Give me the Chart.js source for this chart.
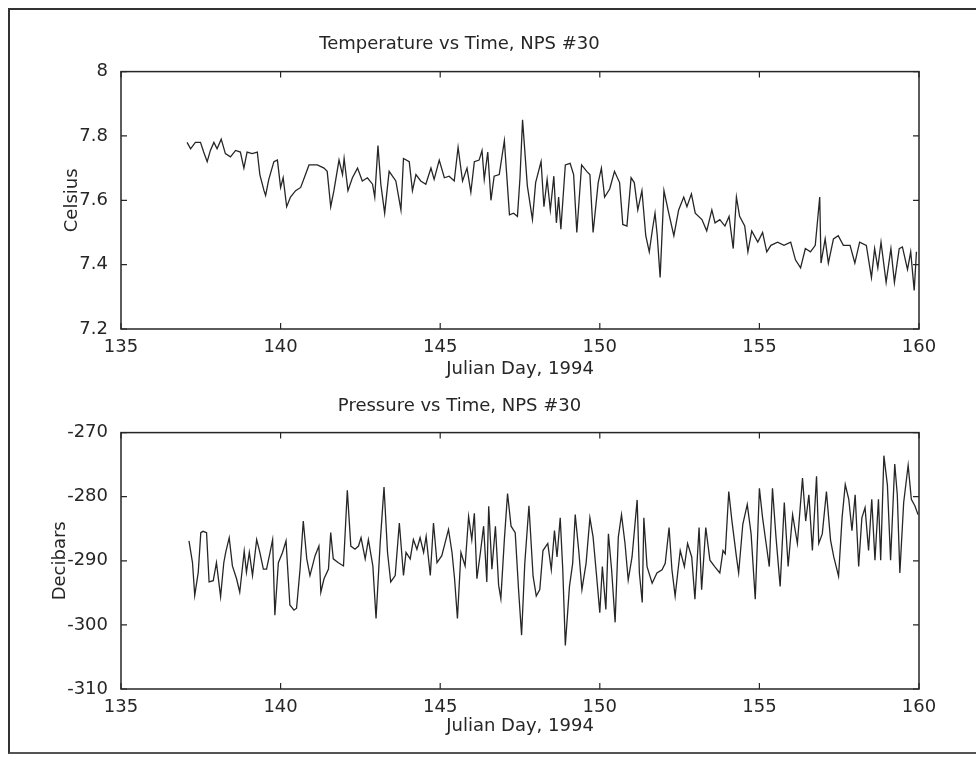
<!DOCTYPE html>
<html>
<head>
<meta charset="utf-8">
<script src="https://cdn.jsdelivr.net/npm/chart.js@4.4.1/dist/chart.umd.min.js"></script>
<style>
  body { margin: 0; background: #fff; }
  #page { position: relative; width: 976px; height: 776px; overflow: hidden; }
  #frame { position: absolute; left: 8px; top: 8px; width: 990px; height: 742px;
           border-left: 2px solid #333; border-top: 2px solid #333; border-bottom: 2px solid #555; }
  canvas { position: absolute; left: 0; }
</style>
</head>
<body>
<div id="page">
  <div id="frame"></div>
  <canvas id="tempChart" width="976" height="380" style="top:0"></canvas>
  <canvas id="presChart" width="976" height="396" style="top:380px"></canvas>
</div>
<script>
// Julian day ticks shared by both plots
let dayTicks = [135, 140, 145, 150, 155, 160];
let tempTicks = [7.2, 7.4, 7.6, 7.8, 8];
let presTicks = [-310, -300, -290, -280, -270];

// Temperature, NPS #30
let tempDays = [
  137.07,137.18,137.33,137.49,137.59,137.70,137.80,137.91,138.01,138.14,
  138.27,138.43,138.59,138.74,138.85,138.95,139.11,139.27,139.35,139.48,
  139.53,139.63,139.79,139.90,140.00,140.08,140.19,140.31,140.47,140.63,
  140.78,140.89,141.15,141.36,141.46,141.57,141.67,141.83,141.94,141.99,
  142.11,142.25,142.41,142.56,142.72,142.88,142.95,143.05,143.14,143.26,
  143.40,143.61,143.77,143.85,144.03,144.13,144.24,144.39,144.55,144.71,
  144.81,144.97,145.13,145.28,145.44,145.56,145.70,145.84,145.96,146.07,
  146.22,146.31,146.38,146.49,146.59,146.69,146.85,147.01,147.17,147.30,
  147.42,147.50,147.58,147.73,147.89,147.99,148.16,148.25,148.35,148.45,
  148.56,148.64,148.71,148.78,148.92,149.07,149.18,149.28,149.43,149.59,
  149.69,149.79,149.95,150.05,150.15,150.31,150.46,150.62,150.72,150.85,
  150.98,151.08,151.19,151.32,151.44,151.55,151.65,151.73,151.80,151.89,
  152.01,152.16,152.32,152.47,152.63,152.73,152.87,152.99,153.20,153.35,
  153.51,153.61,153.76,153.92,154.05,154.18,154.28,154.38,154.54,154.64,
  154.76,154.95,155.10,155.23,155.36,155.57,155.77,155.98,156.13,156.29,
  156.44,156.60,156.75,156.89,156.93,157.06,157.16,157.32,157.47,157.63,
  157.84,157.99,158.14,158.35,158.51,158.61,158.71,158.81,158.97,159.12,
  159.23,159.38,159.48,159.64,159.74,159.85,159.92
];
let tempValues = [
  7.78,7.76,7.78,7.78,7.75,7.72,7.755,7.78,7.76,7.79,
  7.745,7.735,7.755,7.75,7.70,7.75,7.745,7.75,7.68,7.63,
  7.615,7.665,7.72,7.725,7.64,7.67,7.58,7.61,7.63,7.64,
  7.68,7.71,7.71,7.70,7.69,7.58,7.63,7.725,7.68,7.73,
  7.63,7.67,7.70,7.66,7.67,7.65,7.61,7.77,7.65,7.56,
  7.69,7.66,7.57,7.73,7.72,7.63,7.68,7.66,7.65,7.70,
  7.665,7.725,7.67,7.675,7.66,7.765,7.66,7.70,7.625,7.72,
  7.725,7.755,7.665,7.75,7.60,7.675,7.68,7.785,7.555,7.56,
  7.55,7.67,7.85,7.645,7.54,7.655,7.72,7.58,7.665,7.57,
  7.675,7.53,7.61,7.51,7.71,7.715,7.68,7.50,7.71,7.69,
  7.68,7.50,7.655,7.70,7.61,7.635,7.69,7.655,7.525,7.52,
  7.67,7.655,7.57,7.63,7.49,7.44,7.51,7.56,7.49,7.36,
  7.63,7.56,7.49,7.57,7.61,7.58,7.62,7.56,7.54,7.505,
  7.57,7.53,7.54,7.52,7.55,7.45,7.61,7.55,7.52,7.44,
  7.505,7.47,7.50,7.44,7.46,7.47,7.46,7.47,7.415,7.39,
  7.45,7.44,7.46,7.61,7.405,7.48,7.405,7.48,7.49,7.46,
  7.46,7.405,7.47,7.46,7.36,7.45,7.39,7.47,7.345,7.45,
  7.345,7.45,7.455,7.385,7.44,7.32,7.44
];

// Pressure, NPS #30
let presDays = [
  137.13,137.24,137.31,137.42,137.50,137.57,137.68,137.76,137.89,137.99,
  138.12,138.22,138.28,138.39,138.49,138.62,138.72,138.86,138.93,139.02,
  139.12,139.25,139.35,139.46,139.56,139.67,139.75,139.82,139.93,140.06,
  140.17,140.29,140.42,140.50,140.61,140.71,140.82,140.92,141.08,141.20,
  141.26,141.36,141.50,141.57,141.65,141.81,141.97,142.09,142.20,142.33,
  142.44,142.52,142.65,142.75,142.89,142.99,143.12,143.24,143.35,143.45,
  143.59,143.72,143.85,143.93,144.06,144.16,144.27,144.37,144.48,144.56,
  144.69,144.79,144.90,145.05,145.26,145.37,145.45,145.54,145.65,145.78,
  145.89,145.99,146.07,146.15,146.26,146.36,146.46,146.52,146.62,146.73,
  146.83,146.90,147.01,147.11,147.22,147.35,147.46,147.55,147.65,147.78,
  147.91,148.01,148.12,148.22,148.37,148.48,148.58,148.66,148.76,148.84,
  148.92,149.05,149.15,149.23,149.34,149.44,149.57,149.69,149.79,149.90,
  150.00,150.08,150.19,150.27,150.37,150.48,150.58,150.68,150.79,150.89,
  151.01,151.17,151.24,151.33,151.38,151.48,151.64,151.79,151.95,152.05,
  152.17,152.26,152.36,152.52,152.65,152.75,152.88,152.98,153.11,153.19,
  153.32,153.45,153.60,153.76,153.86,153.93,154.04,154.14,154.28,154.35,
  154.48,154.62,154.74,154.87,155.00,155.10,155.21,155.31,155.41,155.52,
  155.65,155.78,155.90,156.04,156.19,156.35,156.45,156.55,156.66,156.79,
  156.86,156.97,157.10,157.23,157.33,157.48,157.59,157.69,157.80,157.90,
  158.00,158.11,158.21,158.31,158.42,158.52,158.62,158.73,158.80,158.90,
  159.01,159.11,159.24,159.32,159.40,159.52,159.66,159.76,159.87,159.97
];
let presValues = [
  -286.9,-290.3,-295.4,-291.8,-285.6,-285.4,-285.6,-293.3,-293.1,-290.3,
  -295.6,-290.3,-288.7,-286.4,-290.8,-292.8,-294.9,-288.5,-291.8,-288.7,
  -292.3,-286.7,-288.7,-291.3,-291.3,-288.7,-286.7,-298.5,-290.3,-288.7,
  -286.9,-296.9,-297.7,-297.4,-291.3,-283.8,-289.7,-292.3,-289.2,-287.7,
  -294.9,-292.8,-291.3,-285.6,-289.7,-290.3,-290.8,-279.0,-287.7,-288.2,
  -287.7,-286.4,-289.7,-286.7,-290.8,-299.0,-287.2,-278.5,-288.7,-293.3,
  -292.3,-284.1,-292.3,-288.7,-289.7,-286.7,-288.2,-286.4,-288.7,-286.2,
  -292.3,-284.1,-290.3,-289.2,-285.1,-288.7,-292.8,-299.0,-288.7,-290.8,
  -283.1,-286.7,-282.6,-292.8,-288.7,-284.6,-293.3,-281.5,-291.3,-284.6,
  -293.8,-295.9,-286.7,-279.5,-284.6,-285.6,-294.9,-301.6,-290.4,-281.4,
  -292.4,-295.5,-294.5,-288.4,-287.3,-291.4,-285.3,-289.4,-283.3,-291.4,
  -303.2,-294.0,-290.4,-282.8,-288.4,-294.5,-290.4,-283.3,-286.3,-292.4,
  -298.1,-290.9,-297.6,-285.8,-291.4,-299.6,-286.3,-282.8,-287.3,-293.0,
  -289.4,-280.5,-291.9,-296.5,-283.3,-290.9,-293.5,-291.9,-291.4,-290.4,
  -284.8,-291.4,-295.5,-288.4,-290.9,-287.3,-289.4,-296.0,-284.8,-294.5,
  -284.8,-289.9,-290.9,-291.9,-288.4,-288.9,-279.2,-283.8,-289.4,-291.9,
  -284.3,-281.2,-285.8,-296.0,-278.7,-283.3,-287.3,-290.9,-278.7,-286.3,
  -294.0,-280.9,-290.9,-282.8,-287.3,-277.1,-283.8,-279.7,-288.4,-276.8,
  -287.3,-285.8,-279.2,-286.8,-289.4,-292.4,-283.3,-278.1,-280.4,-285.3,
  -279.7,-290.9,-283.3,-281.7,-288.4,-280.4,-289.9,-280.4,-289.9,-273.6,
  -278.2,-289.9,-274.9,-279.7,-291.9,-280.9,-275.1,-280.4,-281.4,-282.8
];

const FONT = { family: "'DejaVu Sans', sans-serif", size: 18, weight: 'normal' };
const INK = '#262626';

// box round the plot area with inward ticks on all four sides
const boxPlugin = {
  id: 'box',
  afterDatasetsDraw(chart) {
    const { ctx, chartArea: a, scales: { x, y } } = chart;
    ctx.save();
    ctx.strokeStyle = INK;
    ctx.lineWidth = 1.5;
    ctx.strokeRect(a.left, a.top, a.right - a.left, a.bottom - a.top);
    ctx.lineWidth = 1.2;
    ctx.beginPath();
    x.ticks.forEach(t => {
      const px = x.getPixelForValue(t.value);
      ctx.moveTo(px, a.bottom); ctx.lineTo(px, a.bottom - 6);
      ctx.moveTo(px, a.top); ctx.lineTo(px, a.top + 6);
    });
    y.ticks.forEach(t => {
      const py = y.getPixelForValue(t.value);
      ctx.moveTo(a.left, py); ctx.lineTo(a.left + 6, py);
      ctx.moveTo(a.right, py); ctx.lineTo(a.right - 6, py);
    });
    ctx.stroke();
    ctx.restore();
  }
};

function makeChart(id, days, values, cfg) {
  return new Chart(document.getElementById(id), {
    type: 'line',
    data: {
      datasets: [{
        data: days.map((d, i) => ({ x: d, y: values[i] })),
        borderColor: INK,
        borderWidth: 1.3,
        pointRadius: 0,
        tension: 0
      }]
    },
    options: {
      responsive: false,
      animation: false,
      layout: { padding: cfg.padding },
      plugins: {
        legend: { display: false },
        tooltip: { enabled: false },
        title: {
          display: true,
          text: cfg.title,
          color: INK,
          font: FONT,
          padding: { top: 0, bottom: cfg.titleGap }
        }
      },
      scales: {
        x: {
          type: 'linear',
          min: 135, max: 160,
          afterBuildTicks: s => { s.ticks = dayTicks.map(v => ({ value: v })); },
          afterFit: s => { s.height = cfg.xHeight; s.paddingLeft = 0; s.paddingRight = 0; },
          grid: { display: false },
          border: { display: false },
          ticks: { color: INK, font: FONT, padding: cfg.xTickPad, maxRotation: 0 },
          title: { display: true, text: 'Julian Day, 1994', color: INK, font: FONT,
                   padding: { top: 0, bottom: cfg.xTitleGap } }
        },
        y: {
          min: cfg.yTicks[0], max: cfg.yTicks[cfg.yTicks.length - 1],
          afterBuildTicks: s => { s.ticks = cfg.yTicks.map(v => ({ value: v })); },
          afterFit: s => { s.width = 121; },
          grid: { display: false },
          border: { display: false },
          ticks: { color: INK, font: FONT, padding: 5,
                   callback: v => String(+Number(v).toFixed(1)) },
          title: { display: true, text: cfg.yTitle, color: INK, font: FONT,
                   padding: { top: cfg.yTitleGap, bottom: 0 } }
        }
      }
    },
    plugins: [boxPlugin]
  });
}

makeChart('tempChart', tempDays, tempValues, {
  title: 'Temperature vs Time, NPS #30',
  yTitle: 'Celsius',
  yTicks: tempTicks,
  padding: { top: 34, left: 0, right: 57, bottom: 0 },
  titleGap: 16,
  xHeight: 51,
  xTickPad: 0,
  xTitleGap: 0,
  yTitleGap: 62
});

makeChart('presChart', presDays, presValues, {
  title: 'Pressure vs Time, NPS #30',
  yTitle: 'Decibars',
  yTicks: presTicks,
  padding: { top: 16, left: 0, right: 57, bottom: 27 },
  titleGap: 15,
  xHeight: 60,
  xTickPad: 0,
  xTitleGap: 12,
  yTitleGap: 50
});
</script>
</body>
</html>
